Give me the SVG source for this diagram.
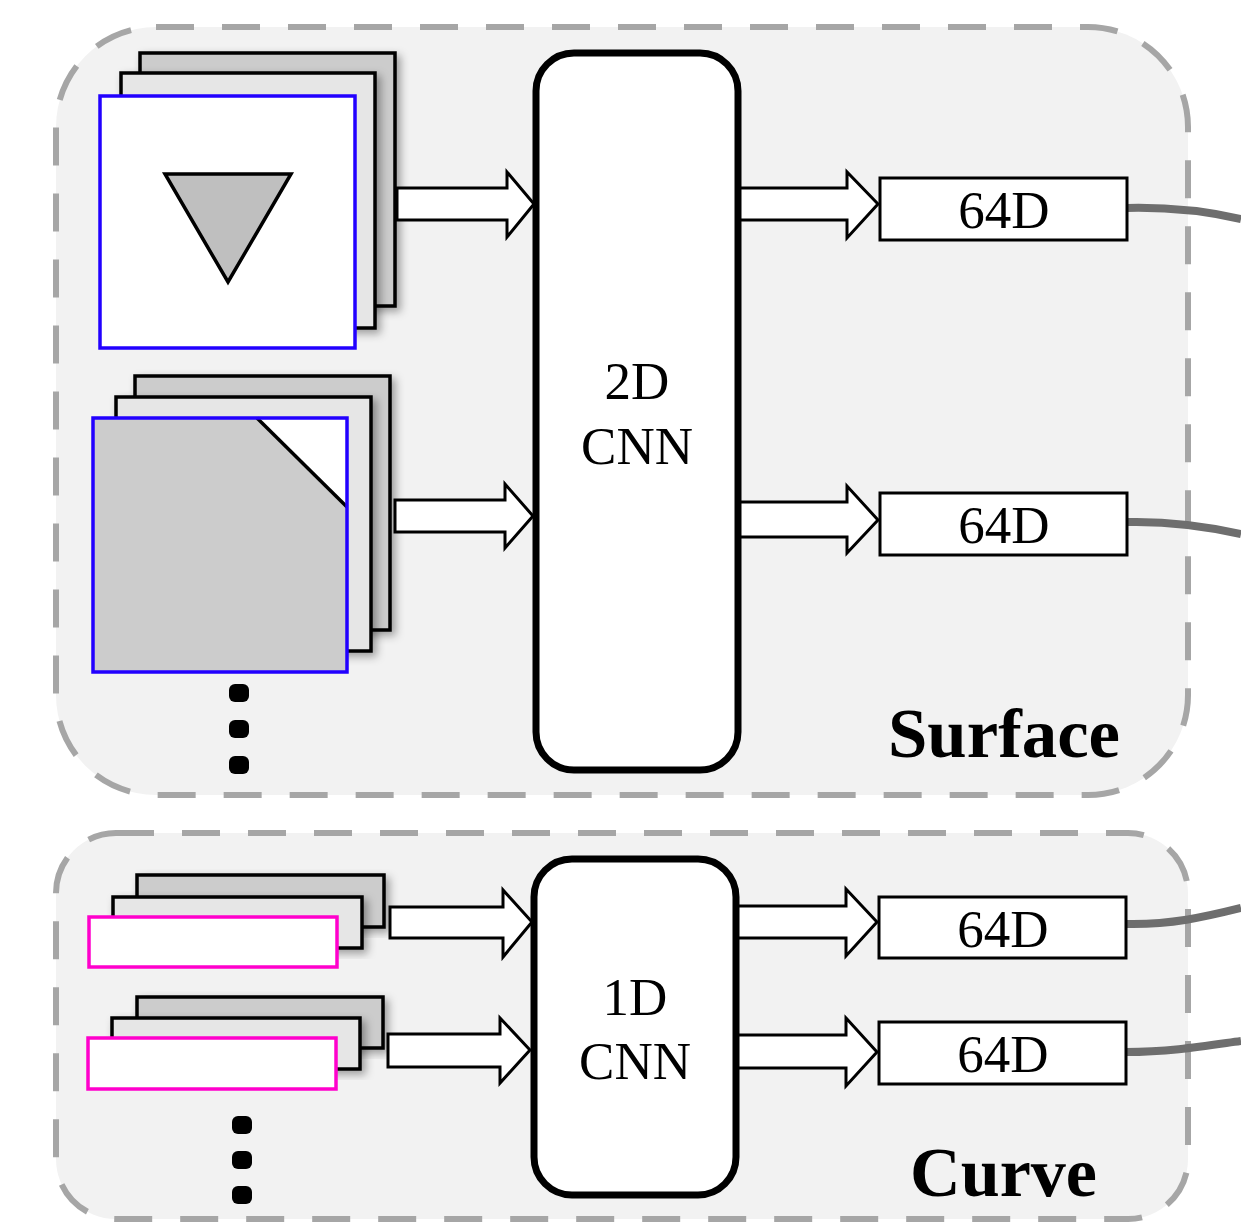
<svg xmlns="http://www.w3.org/2000/svg" width="1241" height="1224" viewBox="0 0 1241 1224">
<style>
.cont{fill:#f2f2f2;stroke:#a6a6a6;stroke-width:6;stroke-dasharray:38 28}
.back{fill:#cccccc;stroke:#000;stroke-width:3.5}
.mid{fill:#e6e6e6;stroke:#000;stroke-width:3.5}
.frontS{stroke:#2200ff;stroke-width:3.5}
.frontC{fill:#fff;stroke:#ff00cc;stroke-width:3.5}
.arrow{fill:#fff;stroke:#000;stroke-width:3;stroke-linejoin:miter}
.cnn{fill:#fff;stroke:#000;stroke-width:7}
.vec{fill:#fff;stroke:#000;stroke-width:3}
.lbl{font-family:"Liberation Serif","Times New Roman",serif;font-size:53px;fill:#000;text-anchor:middle}
.title{font-family:"Liberation Serif","Times New Roman",serif;font-size:70px;font-weight:bold;fill:#000}
.link{fill:none;stroke:#6e6e6e;stroke-width:8}
.dot{fill:#000}
</style>
<defs>
<filter id="sh" x="-10%" y="-10%" width="130%" height="130%">
<feDropShadow dx="4" dy="4" stdDeviation="4" flood-color="#000" flood-opacity="0.35"/>
</filter>
</defs>

<g id="surface-container">
<rect class="cont" x="56" y="27" width="1132" height="768" rx="100" ry="100"/>
<text class="title" x="888" y="757" textLength="232" lengthAdjust="spacingAndGlyphs">Surface</text>
</g>
<g id="curve-container">
<rect class="cont" x="56" y="833" width="1132" height="386" rx="60" ry="60"/>
<text class="title" x="910" y="1196" textLength="187" lengthAdjust="spacingAndGlyphs">Curve</text>
</g>

<g id="surface-stack-1">
<rect class="back" x="140" y="53" width="255" height="253" filter="url(#sh)"/>
<rect class="mid" x="121" y="73" width="254" height="255" filter="url(#sh)"/>
<rect class="frontS" fill="#fff" x="100" y="96" width="255" height="252"/>
<polygon points="165,174 291,174 228,282" fill="#bfbfbf" stroke="#000" stroke-width="3.5" stroke-linejoin="miter"/>
</g>

<g id="surface-stack-2">
<rect class="back" x="135" y="376" width="255" height="254" filter="url(#sh)"/>
<rect class="mid" x="116" y="397" width="255" height="254" filter="url(#sh)"/>
<rect x="93" y="418" width="254" height="254" fill="#cccccc"/>
<polygon points="257,418 347,418 347,507" fill="#fff"/>
<line x1="257" y1="418" x2="347" y2="507" stroke="#000" stroke-width="3.5"/>
<rect class="frontS" fill="none" x="93" y="418" width="254" height="254"/>
</g>

<g id="surface-dots">
<rect class="dot" x="229" y="684" width="20" height="18" rx="6"/>
<rect class="dot" x="229" y="720" width="20" height="18" rx="6"/>
<rect class="dot" x="229" y="756" width="20" height="18" rx="6"/>
</g>

<g id="curve-stack-1">
<rect class="back" x="137" y="875" width="247" height="52" filter="url(#sh)"/>
<rect class="mid" x="113" y="897" width="249" height="51" filter="url(#sh)"/>
<rect class="frontC" x="89" y="917" width="248" height="50"/>
</g>
<g id="curve-stack-2">
<rect class="back" x="137" y="997" width="246" height="51" filter="url(#sh)"/>
<rect class="mid" x="112" y="1018" width="248" height="51" filter="url(#sh)"/>
<rect class="frontC" x="88" y="1038" width="248" height="51"/>
</g>
<g id="curve-dots">
<rect class="dot" x="232" y="1116" width="20" height="18" rx="6"/>
<rect class="dot" x="232" y="1151" width="20" height="18" rx="6"/>
<rect class="dot" x="232" y="1186" width="20" height="18" rx="6"/>
</g>

<g id="connectors">
<polygon class="arrow" points="397,188 507,188 507,172 534,204 507,237 507,220 397,220"/>
<polygon class="arrow" points="395,500 505,500 505,484 533,516 505,548 505,532 395,532"/>
<polygon class="arrow" points="390,907 503,907 503,890 532,922 503,957 503,938 390,938"/>
<polygon class="arrow" points="388,1034 500,1034 500,1018 530,1050 500,1083 500,1067 388,1067"/>
<polygon class="arrow" points="738,188 847,188 847,172 878,204 847,238 847,220 738,220"/>
<polygon class="arrow" points="738,502 847,502 847,486 878,520 847,553 847,537 738,537"/>
<polygon class="arrow" points="736,906 846,906 846,889 877,922 846,956 846,938 736,938"/>
<polygon class="arrow" points="736,1035 846,1035 846,1018 877,1052 846,1086 846,1068 736,1068"/>
<path class="link" d="M1127,208 C1170,207 1205,211 1241,219"/>
<path class="link" d="M1127,522 C1170,521 1205,526 1241,534"/>
<path class="link" d="M1126,924 C1170,925 1205,917 1241,908"/>
<path class="link" d="M1126,1052 C1170,1052 1205,1046 1241,1041"/>
</g>

<g id="cnn-2d">
<rect class="cnn" x="536" y="53" width="202" height="717" rx="38" ry="38"/>
<text class="lbl" x="637" y="399">2D</text>
<text class="lbl" x="637" y="464">CNN</text>
</g>
<g id="cnn-1d">
<rect class="cnn" x="534" y="859" width="202" height="336" rx="38" ry="38"/>
<text class="lbl" x="635" y="1015">1D</text>
<text class="lbl" x="635" y="1079">CNN</text>
</g>

<g id="vec-s1"><rect class="vec" x="880" y="178" width="247" height="62"/><text class="lbl" x="1004" y="228">64D</text></g>
<g id="vec-s2"><rect class="vec" x="880" y="493" width="247" height="62"/><text class="lbl" x="1004" y="543">64D</text></g>
<g id="vec-c1"><rect class="vec" x="879" y="897" width="247" height="61"/><text class="lbl" x="1003" y="947">64D</text></g>
<g id="vec-c2"><rect class="vec" x="879" y="1022" width="247" height="62"/><text class="lbl" x="1003" y="1072">64D</text></g>
</svg>
